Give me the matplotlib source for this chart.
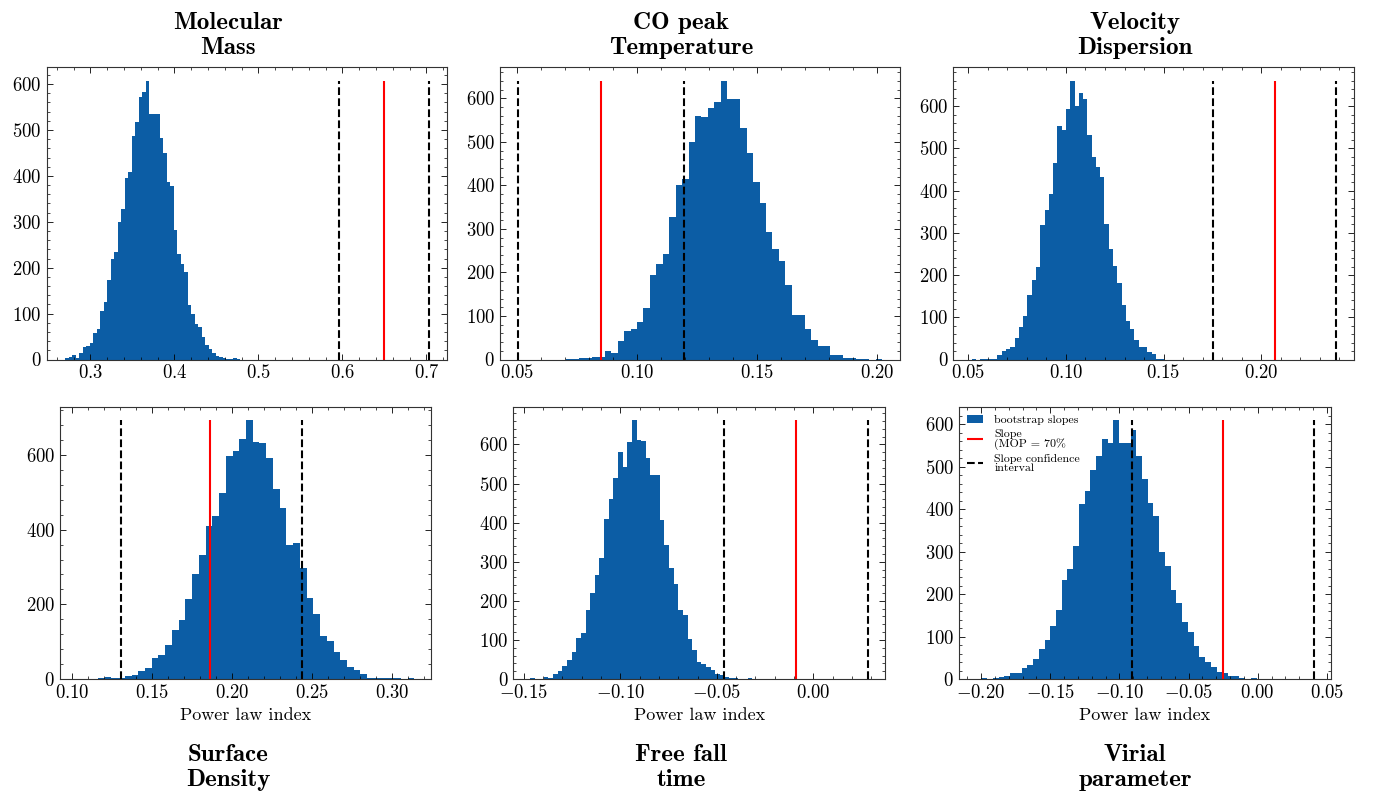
import matplotlib
matplotlib.use("Agg")
import matplotlib.pyplot as plt
import numpy as np
from matplotlib.ticker import MultipleLocator, AutoMinorLocator

# Bootstrap slope histograms: counts per bin, first bin edge, bin width
mass_counts = [3, 6, 9, 4, 14, 28, 30, 36, 57, 67, 106, 125, 173, 220, 235, 300, 328, 396, 409, 486,
               518, 571, 583, 607, 535, 536, 536, 483, 449, 386, 377, 282, 230, 209, 191, 119, 99, 78, 71, 49,
               32, 23, 14, 7, 6, 3, 2, 1, 3, 1]
mass_start, mass_width = 0.2699, 0.004166
mass_lines = [0.5957, 0.6496, 0.7036]

temp_counts = [1, 1, 3, 4, 5, 6, 19, 15, 42, 65, 69, 87, 119, 195, 219, 243, 328, 402, 415, 500,
               560, 557, 577, 592, 640, 598, 598, 531, 474, 407, 359, 292, 254, 227, 171, 103, 103, 71, 44, 31,
               31, 10, 10, 3, 3, 2, 1, 0, 1]
temp_start, temp_width = 0.07042, 0.002688
temp_lines = [0.0504, 0.0850, 0.1196]

vel_counts = [1, 0, 1, 1, 2, 2, 10, 20, 26, 29, 52, 77, 104, 154, 188, 218, 318, 355, 391, 466,
              553, 544, 594, 660, 601, 631, 617, 531, 480, 457, 432, 322, 262, 221, 182, 129, 92, 72, 46, 29,
              29, 17, 14, 2, 1]
vel_start, vel_width = 0.05174, 0.002193
vel_lines = [0.1753, 0.2070, 0.2382]

surf_counts = [2, 5, 3, 4, 8, 10, 21, 30, 56, 65, 91, 132, 158, 215, 282, 333, 409, 436, 497, 597,
               611, 644, 693, 635, 631, 593, 509, 458, 360, 364, 296, 216, 173, 116, 103, 73, 50, 32, 23, 13,
               4, 3, 4, 3, 2, 1, 3, 1]
surf_start, surf_width = 0.11598, 0.004208
surf_lines = [0.1302, 0.1862, 0.2436]

ff_counts = [2, 0, 1, 4, 2, 14, 20, 33, 48, 68, 106, 118, 176, 221, 267, 309, 410, 461, 515, 581,
             543, 607, 662, 611, 609, 566, 521, 522, 408, 343, 285, 243, 176, 164, 103, 74, 44, 39, 31, 24,
             12, 9, 5, 3, 2, 1, 0, 2]
ff_start, ff_width = -0.14689, 0.002403
ff_lines = [-0.0464, -0.0090, 0.0284]

vir_counts = [2, 1, 2, 5, 7, 13, 13, 25, 33, 48, 71, 91, 124, 162, 233, 260, 314, 412, 442, 492,
              526, 565, 555, 609, 556, 556, 586, 526, 470, 414, 384, 300, 266, 209, 180, 135, 111, 77, 52, 39,
              28, 17, 15, 8, 7, 3, 1, 3]
vir_start, vir_width = -0.19966, 0.004143
vir_lines = [-0.0908, -0.0253, 0.0405]

titles = ["Molecular\nMass", "CO peak\nTemperature", "Velocity\nDispersion",
          "Surface\nDensity", "Free fall\ntime", "Virial\nparameter"]
xlims = [(0.2481, 0.7242), (0.0429, 0.2096), (0.0423, 0.2475),
         (0.0923, 0.3242), (-0.1555, 0.0372), (-0.2159, 0.0529)]
xsteps = [0.1, 0.05, 0.05, 0.05, 0.05, 0.05]
ysteps = [100, 100, 100, 200, 100, 100]

panels = [(mass_counts, mass_start, mass_width, mass_lines),
          (temp_counts, temp_start, temp_width, temp_lines),
          (vel_counts, vel_start, vel_width, vel_lines),
          (surf_counts, surf_start, surf_width, surf_lines),
          (ff_counts, ff_start, ff_width, ff_lines),
          (vir_counts, vir_start, vir_width, vir_lines)]

plt.rcParams.update({
    "font.family": "serif",
    "font.serif": ["cmr10"],
    "mathtext.fontset": "cm",
    "axes.formatter.use_mathtext": True,
    "xtick.direction": "in",
    "ytick.direction": "in",
    "xtick.top": True,
    "ytick.right": True,
    "xtick.minor.visible": True,
    "ytick.minor.visible": True,
    "xtick.major.size": 4.5,
    "ytick.major.size": 4.5,
    "xtick.minor.size": 2.2,
    "ytick.minor.size": 2.2,
    "xtick.major.width": 0.6,
    "ytick.major.width": 0.6,
    "xtick.minor.width": 0.5,
    "ytick.minor.width": 0.5,
    "axes.linewidth": 0.8,
    "axes.edgecolor": "#333333",
    "xtick.labelsize": 13.5,
    "ytick.labelsize": 13.5,
})

W, H = 1374, 796
fig = plt.figure(figsize=(W / 100, H / 100), dpi=100)

# axes boxes in pixels: left, top, right, bottom
boxes = [(46.7, 67, 446.7, 359.5), (500, 67, 900, 359.5), (953.3, 67, 1354, 359.5),
         (60, 407.3, 431, 679), (513.3, 407.3, 885, 679), (959, 407.3, 1331, 679)]
title_x = [228, 681, 1135]

for i, (counts, start, width, lines) in enumerate(panels):
    l, t, r, b = boxes[i]
    ax = fig.add_axes([l / W, 1 - b / H, (r - l) / W, (b - t) / H])
    counts = np.array(counts, dtype=float)
    edges = start + width * np.arange(len(counts) + 1)
    centers = 0.5 * (edges[:-1] + edges[1:])
    ax.hist(centers, bins=edges, weights=counts, color="#0C5DA5",
            linewidth=0, label="bootstrap slopes")
    top = counts.max()
    ax.vlines(lines[1], 0, top, color="red", linewidth=1.5, label="Slope\n(MOP = 70%")
    ax.vlines([lines[0], lines[2]], 0, top, color="black", linestyle="--",
              linewidth=1.5, label="Slope confidence\ninterval")
    ax.set_xlim(*xlims[i])
    ax.set_ylim(0, top * 1.05)
    ax.xaxis.set_major_locator(MultipleLocator(xsteps[i]))
    ax.yaxis.set_major_locator(MultipleLocator(ysteps[i]))
    ax.xaxis.set_minor_locator(AutoMinorLocator(5))
    ax.yaxis.set_minor_locator(AutoMinorLocator(5))
    if i >= 3:
        ax.set_xlabel("Power law index", fontsize=13)
    if i == 5:
        leg = ax.legend(loc="upper left", fontsize=8.6, frameon=False, handlelength=1.4,
                        labelspacing=0.3, borderaxespad=0.3, handletextpad=0.9,
                        borderpad=0.35)
        for txt in leg.get_texts():
            txt.set_linespacing(0.95)

    col = i % 3
    if i < 3:
        fig.text(title_x[col] / W, 1 - 59 / H, titles[i], ha="center", va="bottom",
                 family="cmb10", fontsize=18, linespacing=1.15)
    else:
        fig.text(title_x[col] / W, 1 - 791 / H, titles[i], ha="center", va="bottom",
                 family="cmb10", fontsize=18, linespacing=1.15)

fig.savefig("out.png", dpi=100)
